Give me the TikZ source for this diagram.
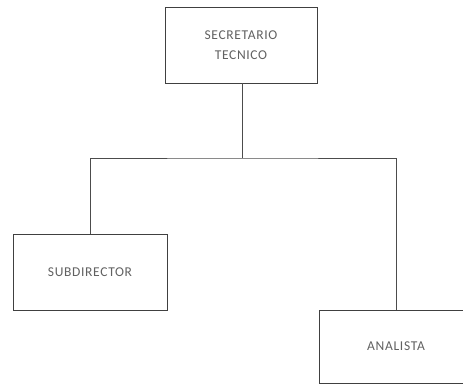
\documentclass[tikz,border=0pt]{standalone}
\usepackage{fontspec}
\setmainfont{Carlito}[LetterSpace=5]
\begin{document}
\begin{tikzpicture}[x=1pt,y=-1pt,
  unit/.style={draw=black!75, line width=0.9pt, fill=white, minimum width=152pt,
    minimum height=76pt, align=center, text=black!62, font=\fontsize{13.5}{20}\selectfont,
    inner sep=0pt},
  link/.style={draw=black!70, line width=0.9pt}]
  \useasboundingbox (0,0) rectangle (463,385);
  \begin{scope}
    \clip (0,0) rectangle (463,385);
    \node[unit] (sec) at (241,45) {SECRETARIO\\TECNICO};
    \node[unit, minimum width=154pt] (sub) at (90,272) {SUBDIRECTOR};
    \node[unit, minimum width=154pt, minimum height=73pt] (ana) at (396,346.5) {ANALISTA};
    \coordinate (bus) at (242,158);
    \draw[link] (sec.south -| bus) -- (bus);
    \draw[link] (sub.north) |- (bus) -| (ana.north);
  \end{scope}
\end{tikzpicture}
\end{document}
